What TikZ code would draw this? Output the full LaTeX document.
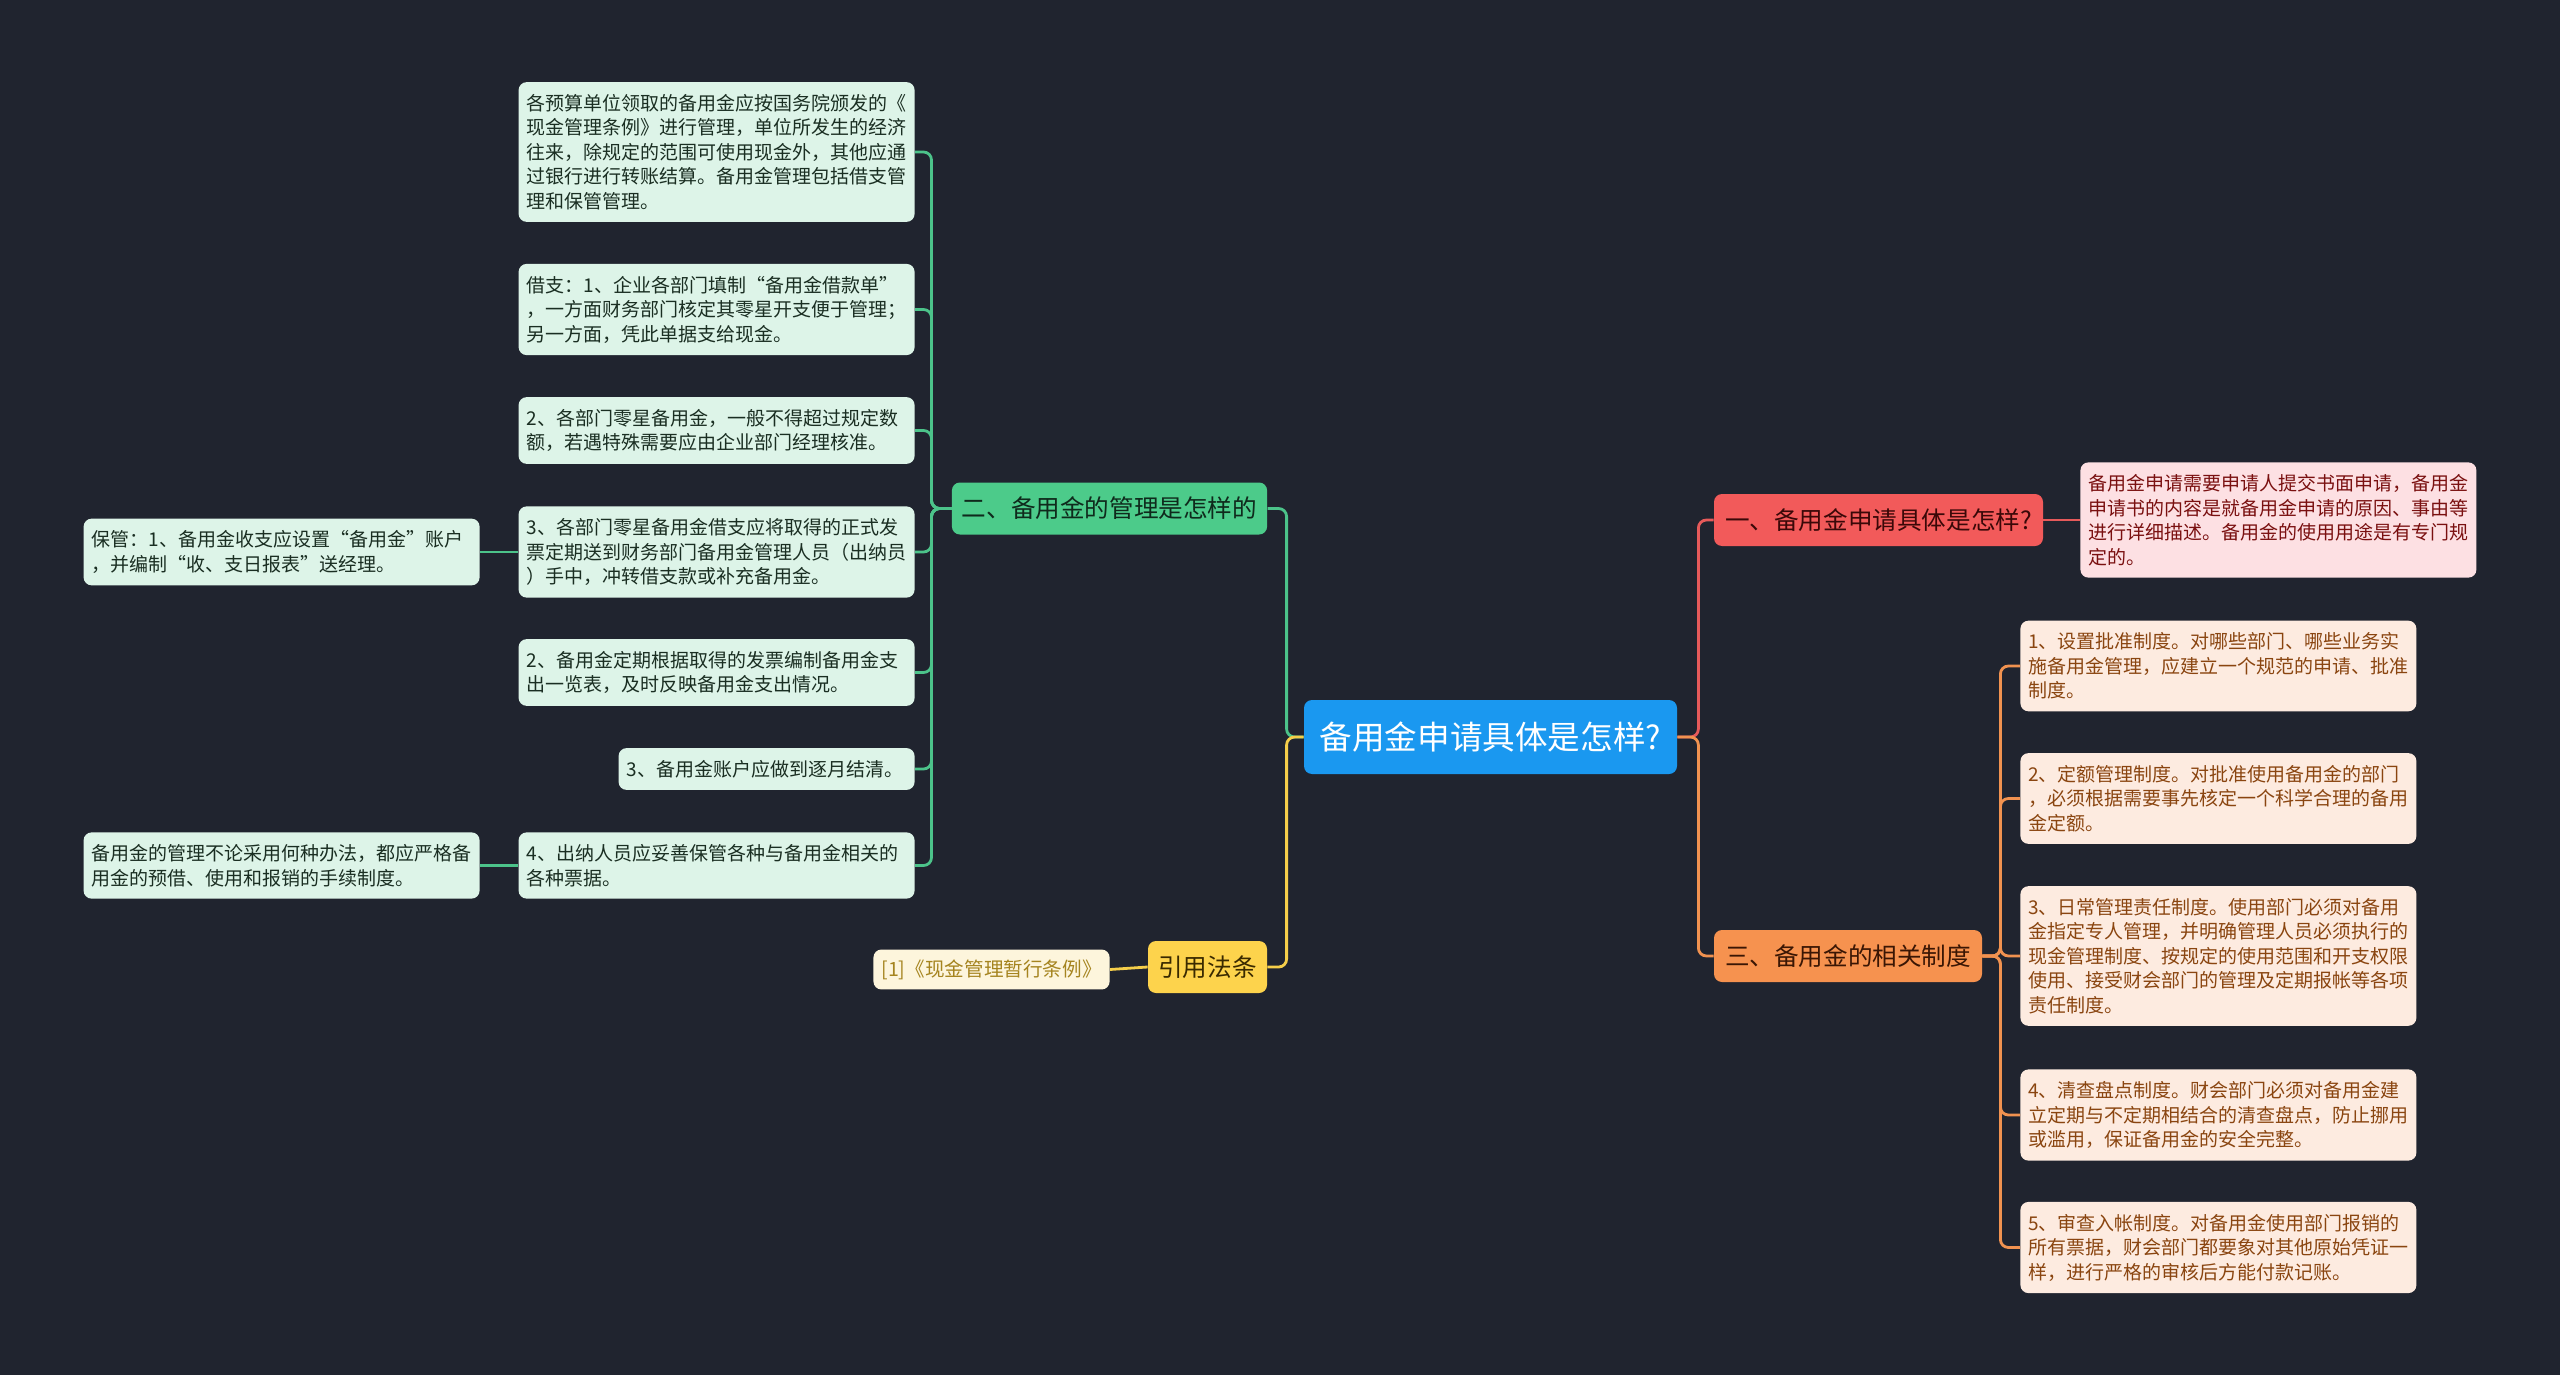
\documentclass[tikz,border=0pt]{standalone}
\usepackage{fontspec}
\setmainfont{Noto Sans CJK SC}
\usetikzlibrary{positioning}
\definecolor{bgc}{HTML}{20242F}
\definecolor{rootc}{HTML}{1A98F0}
\definecolor{greenbr}{HTML}{4CCB8A}
\definecolor{greentx}{HTML}{0F2A1C}
\definecolor{gfill}{HTML}{DDF4E8}
\definecolor{gtext}{HTML}{1A2E22}
\definecolor{greenln}{HTML}{4CC38A}
\definecolor{yellowbr}{HTML}{FDD34C}
\definecolor{yellowtx}{HTML}{3A2A00}
\definecolor{reffill}{HTML}{FDF5DC}
\definecolor{reftx}{HTML}{A5841F}
\definecolor{yellowln}{HTML}{F5CE4A}
\definecolor{redbr}{HTML}{F25A5A}
\definecolor{redtx}{HTML}{3A0808}
\definecolor{rfill}{HTML}{FDE0E3}
\definecolor{rtext}{HTML}{7A1010}
\definecolor{redln}{HTML}{E65A5A}
\definecolor{orangebr}{HTML}{F6924F}
\definecolor{orangetx}{HTML}{3A1604}
\definecolor{ofill}{HTML}{FDEBE0}
\definecolor{otext}{HTML}{8A4510}
\definecolor{orangeln}{HTML}{F19250}

\begin{document}
\begin{tikzpicture}[x=0.5pt, y=-0.5pt, every node/.style={rounded corners=4pt, inner xsep=4pt, inner ysep=6pt, align=left},
  rootbox/.style={fill=rootc, text=white, font=\fontsize{16.3pt}{19pt}\selectfont, minimum width=186.5pt, minimum height=37pt, align=center},
  branch/.style={font=\fontsize{12.3pt}{14pt}\selectfont, minimum height=26pt, align=center, inner xsep=5pt},
  leaf/.style={font=\fontsize{9.5pt}{12.25pt}\selectfont, text width=190pt},
  gleaf/.style={leaf, fill=gfill, text=gtext},
  rleaf/.style={leaf, fill=rfill, text=rtext},
  oleaf/.style={leaf, fill=ofill, text=otext},
  gconn/.style={draw=greenln, line width=1.4pt, rounded corners=4pt},
  yconn/.style={draw=yellowln, line width=1.4pt, rounded corners=4pt},
  rconn/.style={draw=redln, line width=1.4pt, rounded corners=4pt},
  oconn/.style={draw=orangeln, line width=1.4pt, rounded corners=4pt}]
\fill[bgc] (0,0) rectangle (2560,1375);

\node[rootbox] (root) at (1490.5,737) {备用金申请具体是怎样?};
\node[branch, fill=greenbr, text=greentx, minimum width=157.5pt] (mgmt) at (1109.5,508.5) {二、备用金的管理是怎样的};
\node[branch, fill=yellowbr, text=yellowtx, minimum width=59.5pt] (law) at (1207.5,967) {引用法条};
\node[branch, fill=redbr, text=redtx, minimum width=164.5pt] (apply) at (1878.5,520) {一、备用金申请具体是怎样?};
\node[branch, fill=orangebr, text=orangetx, minimum width=134pt] (sys) at (1848,956) {三、备用金的相关制度};

\node[gleaf, anchor=east] (g1) at (915,152) {各预算单位领取的备用金应按国务院颁发的《\\现金管理条例》进行管理，单位所发生的经济\\往来，除规定的范围可使用现金外，其他应通\\过银行进行转账结算。备用金管理包括借支管\\理和保管管理。};
\node[gleaf, anchor=east] (g2) at (915,309.5) {借支：1、企业各部门填制“备用金借款单”\\，一方面财务部门核定其零星开支便于管理；\\另一方面，凭此单据支给现金。};
\node[gleaf, anchor=east] (g3) at (915,430.5) {2、各部门零星备用金，一般不得超过规定数\\额，若遇特殊需要应由企业部门经理核准。};
\node[gleaf, anchor=east] (g4) at (915,552) {3、各部门零星备用金借支应将取得的正式发\\票定期送到财务部门备用金管理人员（出纳员\\）手中，冲转借支款或补充备用金。};
\node[gleaf, anchor=east] (g5) at (915,672.5) {2、备用金定期根据取得的发票编制备用金支\\出一览表，及时反映备用金支出情况。};
\node[gleaf, anchor=east, text width=140pt] (g6) at (915,769) {3、备用金账户应做到逐月结清。};
\node[gleaf, anchor=east] (g7) at (915,865.5) {4、出纳人员应妥善保管各种与备用金相关的\\各种票据。};
\node[gleaf, anchor=east] (keep) at (480,552) {保管：1、备用金收支应设置“备用金”账户\\，并编制“收、支日报表”送经理。};
\node[gleaf, anchor=east] (strict) at (480,865.5) {备用金的管理不论采用何种办法，都应严格备\\用金的预借、使用和报销的手续制度。};

\node[fill=reffill, text=reftx, font=\fontsize{9.8pt}{11.5pt}\selectfont, inner ysep=5pt, anchor=east] (ref1) at (1110,969.5) {[1]《现金管理暂行条例》};

\node[rleaf, anchor=west] (req) at (2080,520) {备用金申请需要申请人提交书面申请，备用金\\申请书的内容是就备用金申请的原因、事由等\\进行详细描述。备用金的使用用途是有专门规\\定的。};

\node[oleaf, anchor=west] (o1) at (2020,666) {1、设置批准制度。对哪些部门、哪些业务实\\施备用金管理，应建立一个规范的申请、批准\\制度。};
\node[oleaf, anchor=west] (o2) at (2020,798.5) {2、定额管理制度。对批准使用备用金的部门\\，必须根据需要事先核定一个科学合理的备用\\金定额。};
\node[oleaf, anchor=west] (o3) at (2020,956) {3、日常管理责任制度。使用部门必须对备用\\金指定专人管理，并明确管理人员必须执行的\\现金管理制度、按规定的使用范围和开支权限\\使用、接受财会部门的管理及定期报帐等各项\\责任制度。};
\node[oleaf, anchor=west] (o4) at (2020,1115) {4、清查盘点制度。财会部门必须对备用金建\\立定期与不定期相结合的清查盘点，防止挪用\\或滥用，保证备用金的安全完整。};
\node[oleaf, anchor=west] (o5) at (2020,1247.5) {5、审查入帐制度。对备用金使用部门报销的\\所有票据，财会部门都要象对其他原始凭证一\\样，进行严格的审核后方能付款记账。};

\draw[gconn] (root.west) -- ++(-17,0) |- (mgmt.east);
\draw[yconn] (root.west) -- ++(-17,0) |- (law.east);
\draw[rconn] (root.east) -- ++(21,0) |- (apply.west);
\draw[oconn] (root.east) -- ++(21,0) |- (sys.west);
\draw[gconn] (mgmt.west) -- ++(-20,0) |- (g1.east);
\draw[gconn] (mgmt.west) -- ++(-20,0) |- (g2.east);
\draw[gconn] (mgmt.west) -- ++(-20,0) |- (g3.east);
\draw[gconn] (mgmt.west) -- ++(-20,0) |- (g4.east);
\draw[gconn] (mgmt.west) -- ++(-20,0) |- (g5.east);
\draw[gconn] (mgmt.west) -- ++(-20,0) |- (g6.east);
\draw[gconn] (mgmt.west) -- ++(-20,0) |- (g7.east);
\draw[gconn] (g4.west) -- (keep.east);
\draw[gconn] (g7.west) -- (strict.east);
\draw[yconn] (law.west) -- (ref1.east);
\draw[rconn] (apply.east) -- (req.west);
\draw[oconn] (sys.east) -- ++(18,0) |- (o1.west);
\draw[oconn] (sys.east) -- ++(18,0) |- (o2.west);
\draw[oconn] (sys.east) -- ++(18,0) |- (o3.west);
\draw[oconn] (sys.east) -- ++(18,0) |- (o4.west);
\draw[oconn] (sys.east) -- ++(18,0) |- (o5.west);
\end{tikzpicture}
\end{document}
